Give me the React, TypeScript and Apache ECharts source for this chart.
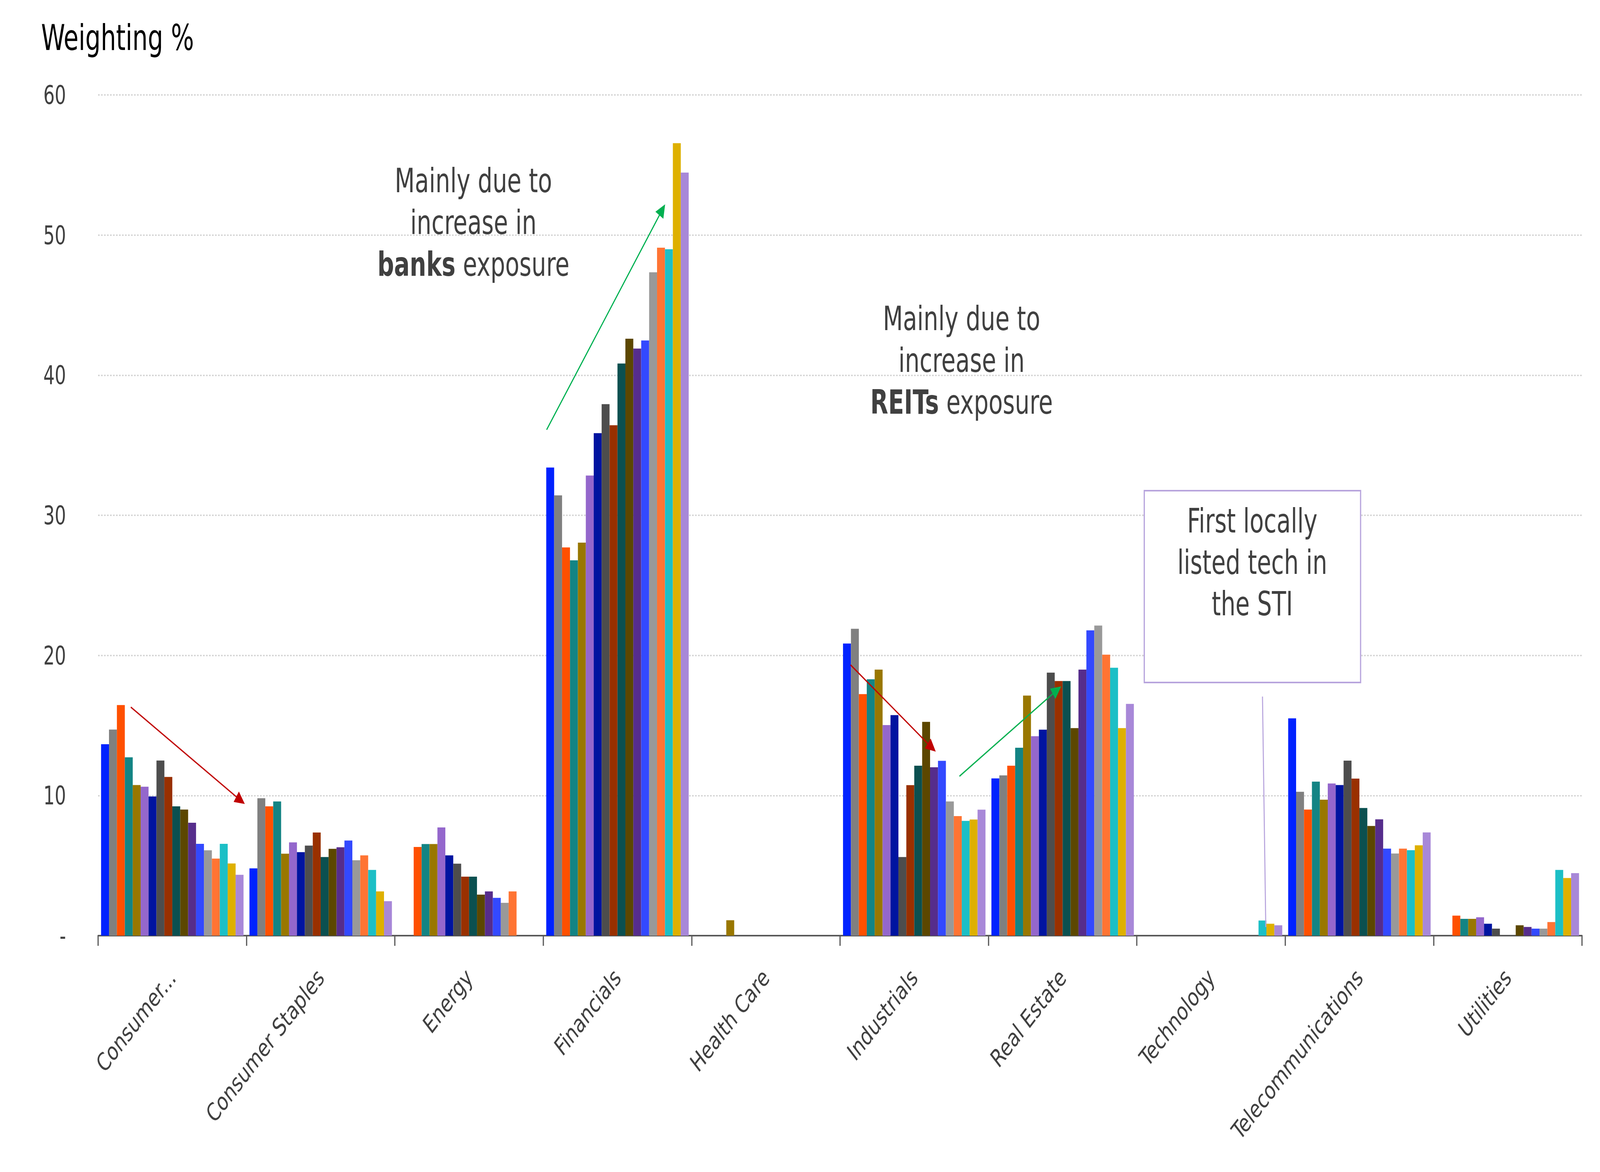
import React, { useEffect, useRef } from "react";
import * as echarts from "echarts";

// ---- Data ----
const categories = [
  "Consumer...",
  "Consumer Staples",
  "Energy",
  "Financials",
  "Health Care",
  "Industrials",
  "Real Estate",
  "Technology",
  "Telecommunications",
  "Utilities",
];

const seriesNames = [
  "Period 1", "Period 2", "Period 3", "Period 4", "Period 5", "Period 6",
  "Period 7", "Period 8", "Period 9", "Period 10", "Period 11", "Period 12",
  "Period 13", "Period 14", "Period 15", "Period 16", "Period 17", "Period 18",
];

const seriesColors = [
  "#0022ff", "#808080", "#ff5000", "#138484", "#997700", "#9467cc",
  "#0014a0", "#4d4d4d", "#993000", "#0b5050", "#5c4700", "#562d8c",
  "#3349ff", "#999999", "#ff7433", "#1cbfc6", "#deb000", "#a888d8",
];

// values per category, one value per period (18)
const consumerDiscretionary = [13.66, 14.71, 16.46, 12.73, 10.75, 10.63, 9.93, 12.5, 11.33, 9.23, 9.0, 8.06, 6.55, 6.09, 5.5, 6.55, 5.15, 4.34];
const consumerStaples = [4.8, 9.81, 9.23, 9.58, 5.85, 6.66, 5.96, 6.43, 7.36, 5.61, 6.2, 6.31, 6.79, 5.38, 5.73, 4.69, 3.16, 2.46];
const energy = [0, 0, 6.33, 6.54, 6.54, 7.72, 5.73, 5.14, 4.21, 4.21, 2.93, 3.16, 2.7, 2.34, 3.16, 0, 0, 0];
const financials = [33.41, 31.42, 27.71, 26.79, 28.05, 32.84, 35.86, 37.93, 36.43, 40.83, 42.6, 41.9, 42.48, 47.34, 49.1, 48.99, 56.56, 54.46];
const healthCare = [0, 0, 0, 0, 1.1, 0, 0, 0, 0, 0, 0, 0, 0, 0, 0, 0, 0, 0];
const industrials = [20.85, 21.9, 17.24, 18.3, 18.99, 15.03, 15.74, 5.61, 10.74, 12.13, 15.26, 12.02, 12.48, 9.58, 8.53, 8.19, 8.29, 8.99];
const realEstate = [11.22, 11.44, 12.13, 13.41, 17.13, 14.23, 14.7, 18.77, 18.17, 18.17, 14.81, 18.99, 21.79, 22.13, 20.05, 19.12, 14.81, 16.54];
const technology = [0, 0, 0, 0, 0, 0, 0, 0, 0, 0, 0, 0, 0, 0, 0, 1.08, 0.85, 0.74];
const telecommunications = [15.51, 10.27, 9.0, 10.99, 9.7, 10.86, 10.75, 12.49, 11.21, 9.11, 7.83, 8.3, 6.21, 5.86, 6.21, 6.1, 6.45, 7.37];
const utilities = [0, 0, 1.43, 1.2, 1.2, 1.31, 0.85, 0.5, 0, 0, 0.74, 0.62, 0.5, 0.5, 0.97, 4.69, 4.11, 4.46];

const yTickLabels = ["-", "10", "20", "30", "40", "50", "60"];

const byCategory = [
  consumerDiscretionary, consumerStaples, energy, financials, healthCare,
  industrials, realEstate, technology, telecommunications, utilities,
];

const W = 5333;
const H = 3000;
const FONT = "'DejaVu Sans Condensed', 'DejaVu Sans', sans-serif";
const TXT = "#404040";

function arrow(x1: number, y1: number, x2: number, y2: number, color: string) {
  const dx = x2 - x1;
  const dy = y2 - y1;
  const L = Math.hypot(dx, dy);
  const ux = dx / L;
  const uy = dy / L;
  const hl = 34;
  const hw = 16;
  const bx = x2 - ux * hl;
  const by = y2 - uy * hl;
  return [
    {
      type: "line",
      z: 100,
      shape: { x1, y1, x2: bx + ux * 4, y2: by + uy * 4 },
      style: { stroke: color, lineWidth: 3.5 },
    },
    {
      type: "polygon",
      z: 100,
      shape: {
        points: [
          [x2, y2],
          [bx - uy * hw, by + ux * hw],
          [bx + uy * hw, by - ux * hw],
        ],
      },
      style: { fill: color },
    },
  ];
}

export default function App() {
  const ref = useRef<HTMLDivElement>(null);

  useEffect(() => {
    const el = ref.current!;
    const vw = window.innerWidth || W;
    const vh = window.innerHeight || H;
    const sx = Math.min(1, vw / W);
    const sy = Math.min(1, vh / H);
    el.style.transform = `scale(${sx}, ${sy})`;
    el.style.transformOrigin = "0 0";
    document.body.style.margin = "0";
    document.body.style.overflow = "hidden";

    const chart = echarts.init(el, null, { renderer: "svg" });

    const series = seriesNames.map((name, si) => ({
      name,
      type: "bar",
      data: byCategory.map((vals) => vals[si]),
      itemStyle: { color: seriesColors[si] },
      barGap: "0%",
      barCategoryGap: "4%",
    }));

    chart.setOption({
      animation: false,
      backgroundColor: "#ffffff",
      textStyle: { fontFamily: FONT },
      grid: { left: 327, right: 60, top: 243, bottom: 605, containLabel: false },
      xAxis: {
        type: "category",
        data: categories,
        axisLine: { show: true, lineStyle: { color: "#595959", width: 4 } },
        axisTick: { show: true, length: 26, lineStyle: { color: "#595959", width: 4 } },
        axisLabel: {
          interval: 0,
          rotate: 45,
          margin: 96,
          fontSize: 64,
          color: TXT,
          fontFamily: FONT,
        },
        splitLine: { show: false },
      },
      yAxis: {
        type: "value",
        min: 0,
        max: 60,
        interval: 10,
        axisLine: { show: false },
        axisTick: { show: false },
        axisLabel: {
          margin: 107,
          fontSize: 66,
          color: TXT,
          fontFamily: FONT,
          formatter: (v: number) => yTickLabels[Math.round(v / 10)] ?? String(v),
        },
        splitLine: {
          show: true,
          lineStyle: { color: "#d0d0d0", width: 3.5, type: [5, 5] },
        },
      },
      series,
      graphic: [
        {
          type: "text",
          z: 100,
          style: {
            text: "Weighting %",
            x: 137,
            y: 97,
            fill: "#000000",
            fontSize: 90,
            fontFamily: FONT,
            align: "left",
            verticalAlign: "middle",
          },
        },
        {
          type: "text",
          z: 100,
          style: {
            text: "Mainly due to\nincrease in\n{b|banks} exposure",
            x: 1578,
            y: 409,
            fill: TXT,
            fontSize: 86,
            fontFamily: FONT,
            lineHeight: 107,
            align: "center",
            verticalAlign: "top",
            rich: {
              b: { fontWeight: "bold", fontSize: 86, fontFamily: FONT, fill: TXT, lineHeight: 107 },
            },
          },
        },
        {
          type: "text",
          z: 100,
          style: {
            text: "Mainly due to\nincrease in\n{b|REITs} exposure",
            x: 3205,
            y: 762,
            fill: TXT,
            fontSize: 86,
            fontFamily: FONT,
            lineHeight: 107,
            align: "center",
            verticalAlign: "top",
            rich: {
              b: { fontWeight: "bold", fontSize: 86, fontFamily: FONT, fill: TXT, lineHeight: 107 },
            },
          },
        },
        {
          type: "rect",
          z: 99,
          shape: { x: 3814, y: 1256, width: 721, height: 491 },
          style: { fill: "#ffffff", stroke: "#b7a4dd", lineWidth: 4 },
        },
        {
          type: "text",
          z: 100,
          style: {
            text: "First locally\nlisted tech in\nthe STI",
            x: 4174,
            y: 1280,
            fill: TXT,
            fontSize: 86,
            fontFamily: FONT,
            lineHeight: 106,
            align: "center",
            verticalAlign: "top",
          },
        },
        {
          type: "line",
          z: 100,
          shape: { x1: 4208, y1: 1783, x2: 4219, y2: 2373 },
          style: { stroke: "#b7a4dd", lineWidth: 3.5 },
        },
        ...arrow(436, 1810, 816, 2058, "#c00000"),
        ...arrow(1822, 1100, 2217, 523, "#00b050"),
        ...arrow(2835, 1702, 3119, 1924, "#c00000"),
        ...arrow(3198, 1987, 3537, 1757, "#00b050"),
      ],
    });

    return () => chart.dispose();
  }, []);

  return (
    <div
      ref={ref}
      style={{ position: "absolute", left: 0, top: 0, width: W, height: H, background: "#ffffff" }}
    />
  );
}
